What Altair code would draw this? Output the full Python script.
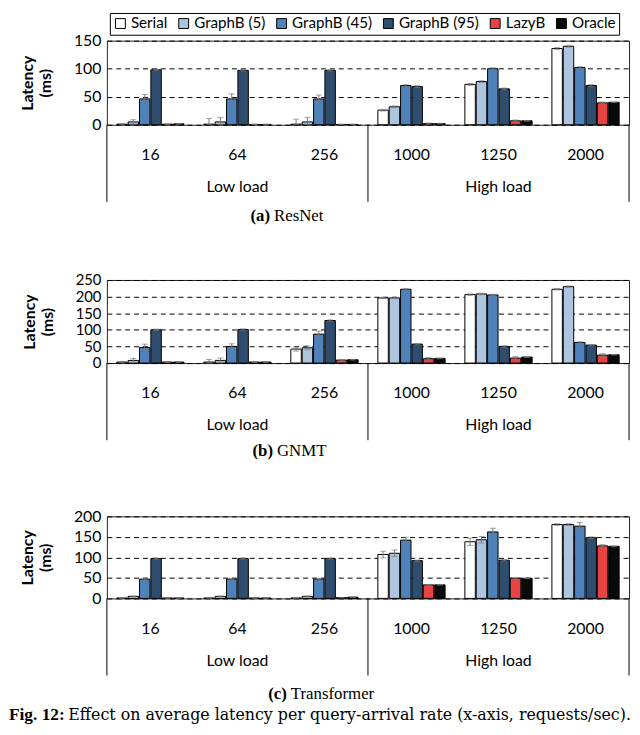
import altair as alt
import pandas as pd

cats = ["16", "64", "256", "1000", "1250", "2000"]
series = ["Serial", "GraphB (5)", "GraphB (45)", "GraphB (95)", "LazyB", "Oracle"]
colors = ["#ffffff", "#aec5df", "#4f81ba", "#2f4d6e", "#e84343", "#0a0a0a"]

# ResNet values (per series, across cats)
resnet_serial = [1, 1, 1, 26, 72, 136]
resnet_g5 = [5, 5, 5, 32, 77, 140]
resnet_g45 = [46, 46, 46, 70, 100, 102]
resnet_g95 = [98, 97, 97, 68, 64, 70]
resnet_lazy = [1, 0.5, 0.5, 2, 7, 39]
resnet_oracle = [1.5, 0.5, 0.5, 2, 7, 40]
resnet_err_serial = [1, 10, 9, 1.5, 1.5, 1.5]
resnet_err_g5 = [4, 8, 8, 1.5, 1.5, 1.5]
resnet_err_g45 = [8, 9, 7, 1.5, 1.5, 1.5]
resnet_err_g95 = [1, 1, 1, 1.5, 1.5, 1.5]
resnet_err_lazy = [0.5, 0.5, 0.5, 1, 1.5, 1.5]
resnet_err_oracle = [0.5, 0.5, 0.5, 0.5, 0.5, 0.5]

# GNMT values
gnmt_serial = [3, 3, 42, 196, 206, 222]
gnmt_g5 = [8, 8, 46, 196, 208, 230]
gnmt_g45 = [47, 50, 87, 222, 205, 62]
gnmt_g95 = [100, 101, 128, 57, 50, 54]
gnmt_lazy = [3, 3, 9, 13, 15, 24]
gnmt_oracle = [3, 3, 10, 14, 18, 25]
gnmt_err_serial = [2, 8, 6, 2, 2, 2]
gnmt_err_g5 = [6, 7, 6, 2, 2, 2]
gnmt_err_g45 = [10, 8, 9, 2, 2, 2]
gnmt_err_g95 = [2, 2, 2, 2, 2, 2]
gnmt_err_lazy = [1, 1, 2, 4, 5, 4]
gnmt_err_oracle = [1, 1, 1, 1, 1, 1]

# Transformer values
trans_serial = [1, 1, 1, 107, 138, 180]
trans_g5 = [5, 5, 5, 110, 143, 180]
trans_g45 = [47, 47, 47, 142, 162, 176]
trans_g95 = [97, 97, 97, 92, 93, 148]
trans_lazy = [1, 1, 2, 33, 49, 128]
trans_oracle = [1, 1, 3, 33, 49, 127]
trans_err_serial = [0.5, 0.5, 0.5, 8, 9, 2]
trans_err_g5 = [1, 1, 1, 8, 8, 2]
trans_err_g45 = [2, 2, 2, 7, 9, 9]
trans_err_g95 = [1.5, 1.5, 1.5, 1.5, 1.5, 2]
trans_err_lazy = [0.5, 0.5, 0.5, 1, 1.5, 3]
trans_err_oracle = [0.5, 0.5, 0.5, 0.5, 0.5, 1]


def make_df(vals, errs):
    rows = []
    for s, v_list, e_list in zip(series, vals, errs):
        for c, v, e in zip(cats, v_list, e_list):
            rows.append({"cat": c, "series": s, "value": v,
                         "lo": max(0, v - e), "hi": v + e})
    return pd.DataFrame(rows)


df_a = make_df([resnet_serial, resnet_g5, resnet_g45, resnet_g95, resnet_lazy, resnet_oracle],
               [resnet_err_serial, resnet_err_g5, resnet_err_g45, resnet_err_g95, resnet_err_lazy, resnet_err_oracle])
df_b = make_df([gnmt_serial, gnmt_g5, gnmt_g45, gnmt_g95, gnmt_lazy, gnmt_oracle],
               [gnmt_err_serial, gnmt_err_g5, gnmt_err_g45, gnmt_err_g95, gnmt_err_lazy, gnmt_err_oracle])
df_c = make_df([trans_serial, trans_g5, trans_g45, trans_g95, trans_lazy, trans_oracle],
               [trans_err_serial, trans_err_g5, trans_err_g45, trans_err_g95, trans_err_lazy, trans_err_oracle])

groups = pd.DataFrame({"cat": ["64", "1250"], "label": ["Low load", "High load"]})
left_edge = pd.DataFrame({"cat": ["16"]})
right_edges = pd.DataFrame({"cat": ["256", "2000"]})

W = 528
SANS = "Lato"
SERIF = "Liberation Serif"


def panel(df, ymax, ystep, H, letter, name, cap_x, cap_y, ylab_size=16, fig_caption=False):
    xaxis = alt.Axis(title=None, labelPadding=22, labelFontSize=16, labelFont=SANS,
                     domain=False, ticks=False, labelAngle=0, labelColor="black")
    xscale = alt.Scale(paddingInner=0, paddingOuter=0)
    x = alt.X("cat:N", sort=cats, scale=xscale, axis=xaxis)
    xo = alt.XOffset("series:N", sort=series,
                     scale=alt.Scale(paddingInner=0.08, paddingOuter=0.87))
    yaxis = alt.Axis(values=list(range(0, ymax + 1, ystep)), grid=True, gridDash=[5, 4],
                     gridColor="black", gridWidth=1, gridOpacity=1,
                     domain=False, ticks=False, labelFont=SANS, labelFontSize=ylab_size,
                     labelColor="black", labelPadding=6,
                     titleFont=SANS, titleFontSize=16, titleFontWeight="bold",
                     titleColor="black", titlePadding=20)
    yscale = alt.Scale(domain=[0, ymax], nice=False)
    ytitle = ["Latency", "(ms)"]

    legend = alt.Legend(orient="none", legendX=3, legendY=-28, direction="horizontal",
                        columns=6, title=None, symbolType="square", symbolSize=100,
                        symbolStrokeColor="black", symbolStrokeWidth=1,
                        labelFont=SANS, labelFontSize=15.3, labelColor="black",
                        labelOffset=3, columnPadding=8, strokeColor="black",
                        padding=3, fillColor="white")

    base = alt.Chart(df)
    bars = base.mark_bar(stroke="black", strokeWidth=1).encode(
        x=x, xOffset=xo,
        y=alt.Y("value:Q", scale=yscale, axis=yaxis, title=ytitle),
        color=alt.Color("series:N", sort=series,
                        scale=alt.Scale(domain=series, range=colors), legend=legend),
    )
    err = base.mark_rule(color="#7a7a7a", strokeWidth=1).encode(
        x=x, xOffset=xo,
        y=alt.Y("lo:Q", scale=yscale, axis=yaxis, title=ytitle), y2="hi:Q",
    )
    cap_hi = base.mark_tick(color="#7a7a7a", size=6, thickness=1).encode(
        x=x, xOffset=xo, y=alt.Y("hi:Q", scale=yscale, axis=yaxis, title=ytitle))
    cap_lo = base.mark_tick(color="#7a7a7a", size=6, thickness=1).encode(
        x=x, xOffset=xo, y=alt.Y("lo:Q", scale=yscale, axis=yaxis, title=ytitle))

    rule_l = alt.Chart(left_edge).mark_rule(color="black", strokeWidth=1).encode(
        x=alt.X("cat:N", sort=cats, scale=xscale, axis=xaxis, bandPosition=0),
        y=alt.value(H), y2=alt.value(H + 78))
    rule_r = alt.Chart(right_edges).mark_rule(color="black", strokeWidth=1).encode(
        x=alt.X("cat:N", sort=cats, scale=xscale, axis=xaxis, bandPosition=1),
        y=alt.value(H), y2=alt.value(H + 78))
    glabels = alt.Chart(groups).mark_text(font=SANS, fontSize=16, color="black",
                                          baseline="middle").encode(
        x=alt.X("cat:N", sort=cats, scale=xscale, axis=xaxis),
        y=alt.value(H + 63), text="label:N")

    cap1 = alt.Chart(pd.DataFrame({"t": [letter]})).mark_text(
        font=SERIF, fontSize=17, fontWeight="bold", align="right", baseline="middle",
        color="black").encode(x=alt.value(cap_x), y=alt.value(cap_y), text="t:N")
    cap2 = alt.Chart(pd.DataFrame({"t": [name]})).mark_text(
        font=SERIF, fontSize=17, align="left", baseline="middle",
        color="black").encode(x=alt.value(cap_x + 4), y=alt.value(cap_y), text="t:N")

    layers = [bars, err, cap_hi, cap_lo, rule_l, rule_r, glabels, cap1, cap2]
    if fig_caption:
        f1 = alt.Chart(pd.DataFrame({"t": ["Fig. 12:"]})).mark_text(
            font=SERIF, fontSize=17.5, fontWeight="bold", align="left", baseline="middle",
            color="black").encode(x=alt.value(-99), y=alt.value(201), text="t:N")
        f2 = alt.Chart(pd.DataFrame({"t": ["Effect on average latency per query-arrival rate (x-axis, requests/sec)."]})).mark_text(
            font="DejaVu Serif", fontSize=16, align="left", baseline="middle",
            color="black").encode(x=alt.value(-39), y=alt.value(201), text="t:N")
        layers += [f1, f2]
    return alt.layer(*layers).properties(width=W, height=H)


pa = panel(df_a, 150, 50, 85, "(a)", "ResNet", 165, 177)
pb = panel(df_b, 250, 50, 84, "(b)", "GNMT", 168, 173, ylab_size=15)
pc = panel(df_c, 200, 50, 83, "(c)", "Transformer", 182, 180, fig_caption=True)

chart = alt.vconcat(pa, pb, pc, spacing=48).properties(
    padding=0
).configure_view(
    stroke="#222222", strokeWidth=1
)

chart.save("out.html", embed_options={"renderer": "svg", "actions": False})
